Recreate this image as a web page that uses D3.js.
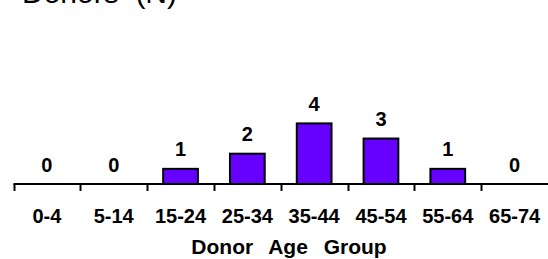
<!DOCTYPE html>
<html>
<head>
<meta charset="utf-8">
<script src="https://cdn.jsdelivr.net/npm/d3@7"></script>
<style>
  body { margin: 0; background: #fff; }
  svg { display: block; }
</style>
</head>
<body>
<svg id="chart" width="548" height="259"></svg>
<script>
// age groups and donor counts
const ageGroups = ['0-4', '5-14', '15-24', '25-34', '35-44', '45-54', '55-64', '65-74'];
const donorCounts = [0, 0, 1, 2, 4, 3, 1, 0];

const svg = d3.select('#chart');
const font = 'Arial, "Liberation Sans", sans-serif';
const baseY = 184;

const x = d3.scaleBand()
  .domain(ageGroups)
  .range([13.5, 548])
  .paddingInner(0)
  .paddingOuter(0);

const y = d3.scaleLinear()
  .domain([0, 4])
  .range([baseY, 123.4]);

// title, mostly cropped off the top
svg.append('text')
  .attr('x', 22)
  .attr('y', 2.5)
  .attr('font-family', font)
  .attr('font-size', '30px')
  .attr('fill', '#000')
  .style('white-space', 'pre')
  .text('Donors  (N)');

const barW = x.bandwidth() * 0.52;

svg.selectAll('rect.bar')
  .data(ageGroups)
  .join('rect')
  .attr('class', 'bar')
  .attr('x', d => x(d) + x.bandwidth() / 2 - barW / 2)
  .attr('y', (d, i) => y(donorCounts[i]))
  .attr('width', barW)
  .attr('height', (d, i) => baseY - y(donorCounts[i]))
  .attr('fill', '#6600ff')
  .attr('stroke', '#000')
  .attr('stroke-width', 2)
  .attr('display', (d, i) => donorCounts[i] > 0 ? null : 'none');

// value labels
svg.selectAll('text.val')
  .data(ageGroups)
  .join('text')
  .attr('class', 'val')
  .attr('x', d => x(d) + x.bandwidth() / 2)
  .attr('y', (d, i) => y(donorCounts[i]) - 12.5)
  .attr('text-anchor', 'middle')
  .attr('font-family', font)
  .attr('font-weight', 'bold')
  .attr('font-size', '20px')
  .text((d, i) => donorCounts[i]);

// x axis: line + ticks between categories
svg.append('line')
  .attr('x1', 13.5).attr('x2', 548)
  .attr('y1', baseY).attr('y2', baseY)
  .attr('stroke', '#000')
  .attr('stroke-width', 2);

svg.selectAll('line.tick')
  .data(ageGroups)
  .join('line')
  .attr('class', 'tick')
  .attr('x1', d => Math.round(x(d)) + 0.5)
  .attr('x2', d => Math.round(x(d)) + 0.5)
  .attr('y1', baseY)
  .attr('y2', baseY + 7)
  .attr('stroke', '#000')
  .attr('stroke-width', 2);

svg.selectAll('text.cat')
  .data(ageGroups)
  .join('text')
  .attr('class', 'cat')
  .attr('x', d => x(d) + x.bandwidth() / 2)
  .attr('y', 222.5)
  .attr('text-anchor', 'middle')
  .attr('font-family', font)
  .attr('font-weight', 'bold')
  .attr('font-size', '20px')
  .text(d => d);

svg.append('text')
  .attr('x', 289)
  .attr('y', 254)
  .attr('text-anchor', 'middle')
  .attr('font-family', font)
  .attr('font-weight', 'bold')
  .attr('font-size', '21px')
  .attr('word-spacing', '10px')
  .text('Donor Age Group');
</script>
</body>
</html>
